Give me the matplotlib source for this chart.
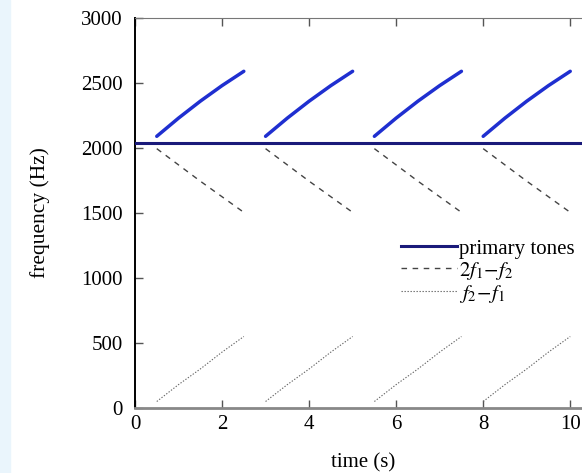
import matplotlib
matplotlib.use('Agg')
import matplotlib.pyplot as plt
from matplotlib.patches import Rectangle

# sweep data
sweep_starts = [0.5, 3.0, 5.5, 8.0]
sweep_t = [0.0, 0.5, 1.0, 1.5, 2.0]
f1 = 2040
f2 = [2090, 2230, 2360, 2480, 2590]
dp_low = [1995, 1870, 1745, 1625, 1505]   # 2f1-f2
dp_diff = [50, 180, 300, 430, 550]        # f2-f1

plt.rcParams['font.family'] = 'Liberation Serif'
plt.rcParams['mathtext.fontset'] = 'stix'

fig = plt.figure(figsize=(5.82, 4.73), dpi=100)
fig.patches.append(Rectangle((0, 0), 10/582, 1, transform=fig.transFigure,
                             color='#eaf5fc', zorder=-10))
ax = fig.add_axes([135/582, 65/473, 457/582, 390/473])

ax.axhline(f1, color='#1a1a7a', lw=2.2, zorder=3, label='primary tones')
for k, s in enumerate(sweep_starts):
    tt = [s + v for v in sweep_t]
    ax.plot(tt, f2, color='#1f2fd0', lw=2.5, solid_capstyle='round')
    ax.plot(tt, dp_low, color='#444444', lw=1.0, ls=(0, (4, 4)),
            label=r'$2f_1\!-\!f_2$' if k == 0 else None)
    ax.plot(tt, dp_diff, color='#666666', lw=0.8, ls=(0, (1.2, 1.5)),
            label=r'$f_2\!-\!f_1$' if k == 0 else None)

ax.set_xlim(0, 10.5)
ax.set_ylim(0, 3000)
ax.set_xticks([0, 2, 4, 6, 8, 10])
ax.set_yticks([0, 500, 1000, 1500, 2000, 2500, 3000])
ax.tick_params(direction='in', length=6, width=1, top=True, right=True,
               labelsize=15, colors='#555555', labelcolor='black')
ax.tick_params(axis='x', pad=5)
ax.tick_params(axis='y', pad=9)
ax.spines['left'].set_color('black')
ax.spines['left'].set_linewidth(1.4)
ax.spines['bottom'].set_color('#888888')
ax.spines['bottom'].set_linewidth(2)
ax.spines['top'].set_color('#777777')
ax.spines['right'].set_visible(False)

ax.set_xlabel('time (s)', fontsize=15)
ax.xaxis.set_label_coords(0.5, -0.115)
ax.set_ylabel('frequency (Hz)', fontsize=15.5)
ax.yaxis.set_label_coords(-0.185, 0.5)

h, l = ax.get_legend_handles_labels()
fig.legend(h, l, loc='upper left', bbox_to_anchor=(401/582, 1 - 239/473),
           frameon=False, fontsize=15, handlelength=2.7, handletextpad=0.1,
           labelspacing=0.05, borderpad=0, borderaxespad=0)

fig.savefig('out.png', dpi=100)
